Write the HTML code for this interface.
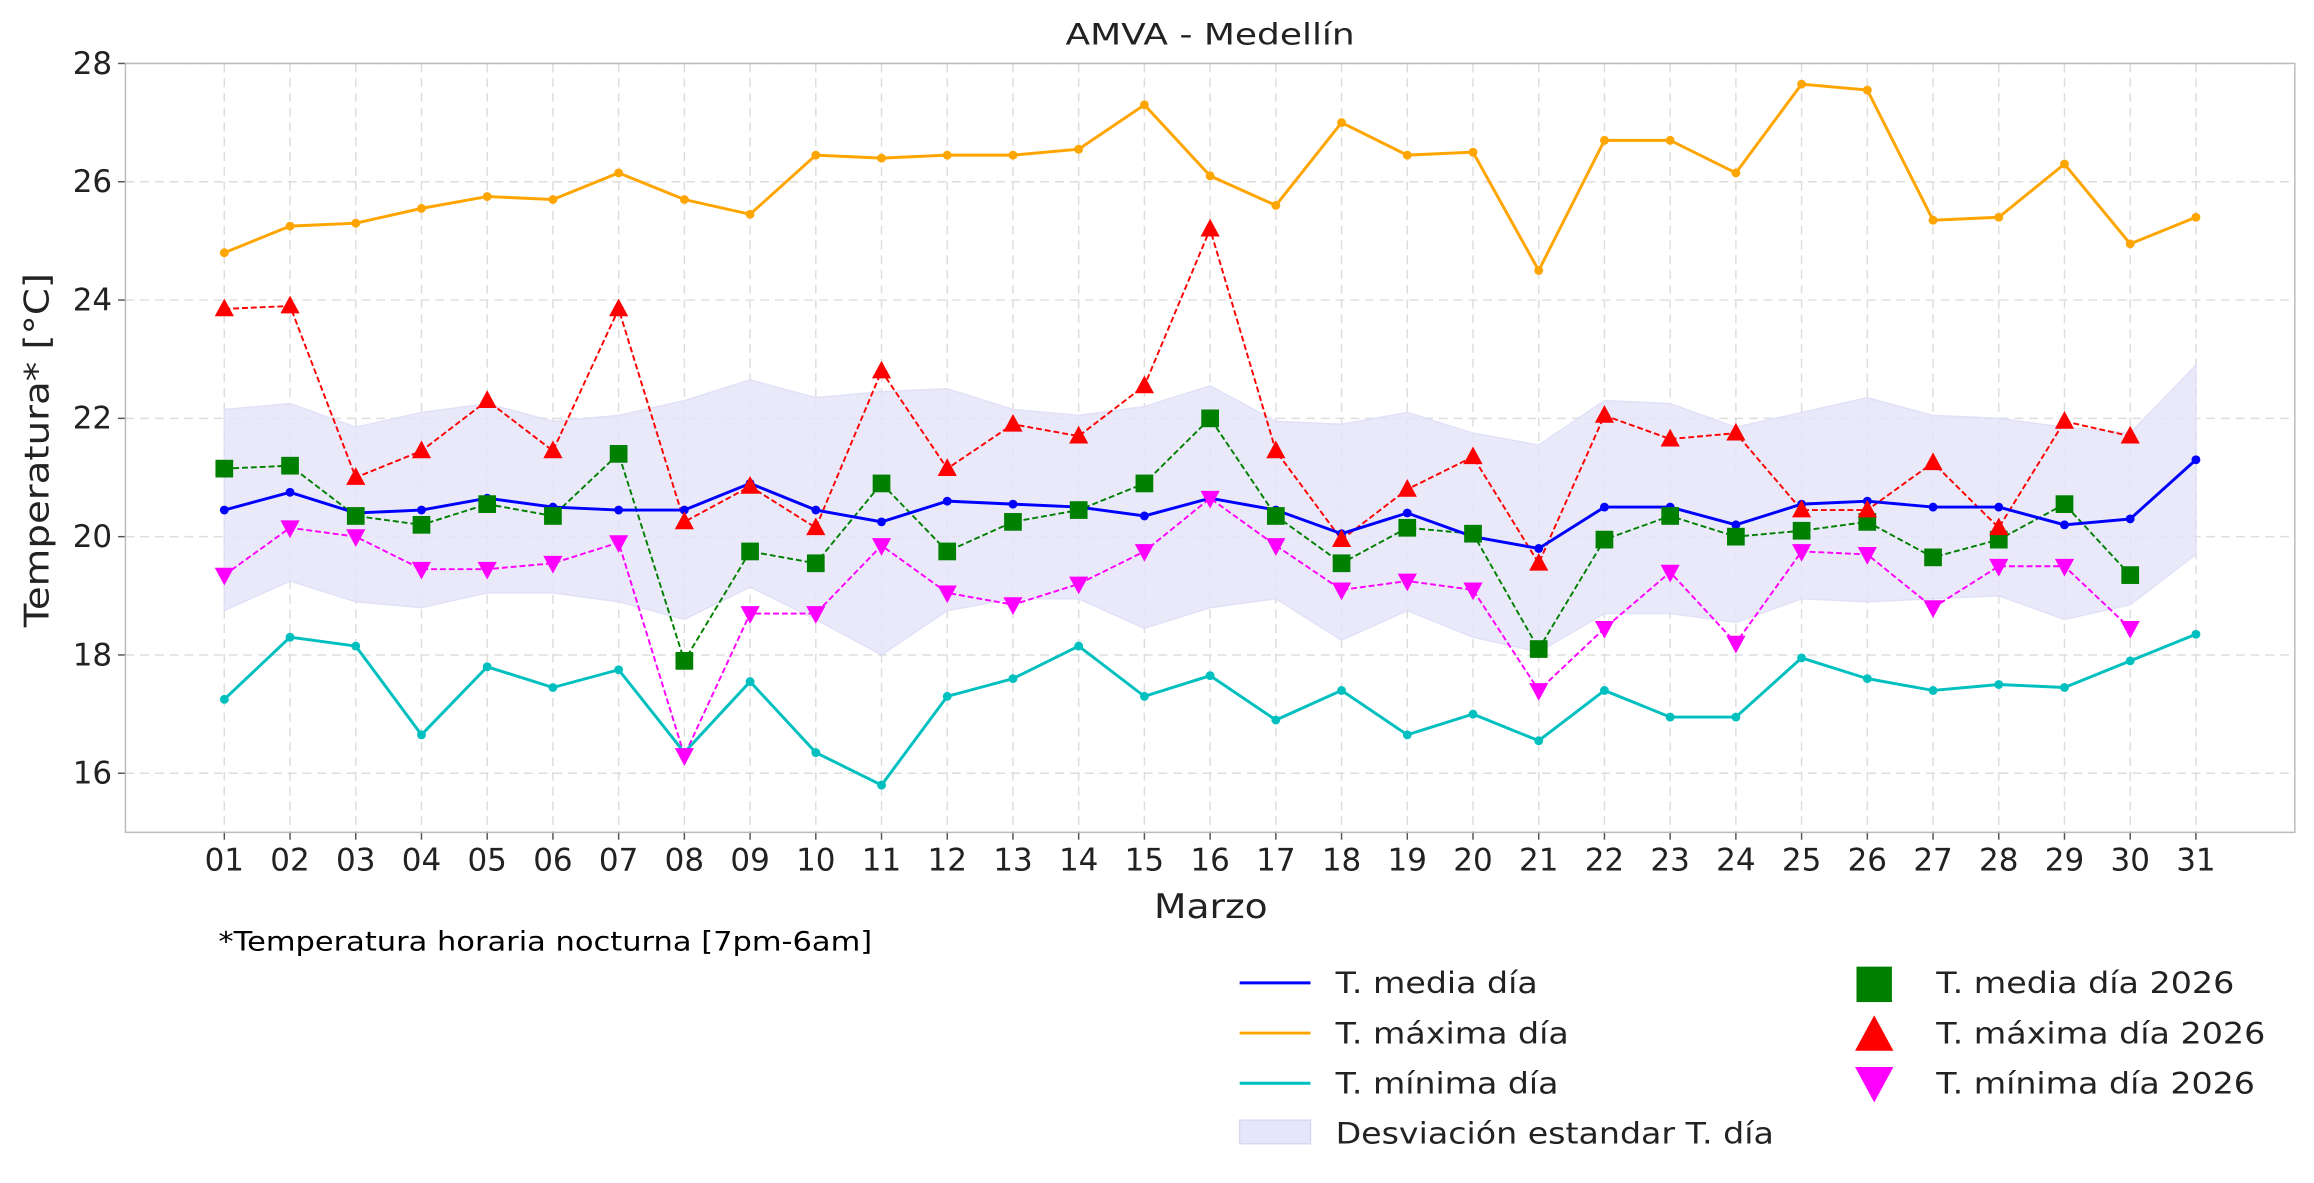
<!DOCTYPE html>
<html><head><meta charset="utf-8"><style>
html,body{margin:0;padding:0;background:#fff;}
svg{display:block;font-family:"DejaVu Sans","Liberation Sans",sans-serif;}
</style></head><body>
<svg id="c" width="2314" height="1183" viewBox="0 0 1568 801.6" preserveAspectRatio="none" xmlns="http://www.w3.org/2000/svg">
<rect x="0" y="0" width="1568" height="802" fill="#fff"/>
<g id="grid"></g>
<g id="data"></g>
<rect x="85" y="43" width="1470" height="521" fill="none" stroke="#bbb" stroke-width="1"/>
<text x="722" y="30" font-size="20" fill="#222" textLength="196" lengthAdjust="spacingAndGlyphs">AMVA - Medellín</text>
<text x="782" y="622" font-size="23" fill="#222" textLength="77" lengthAdjust="spacingAndGlyphs">Marzo</text>
<text transform="translate(33,425) rotate(-90)" font-size="23" fill="#222" textLength="240" lengthAdjust="spacingAndGlyphs">Temperatura* [°C]</text>
<text x="148" y="644" font-size="18" fill="#000" textLength="443" lengthAdjust="spacingAndGlyphs">*Temperatura horaria nocturna [7pm-6am]</text>
<g font-size="20" fill="#222">
<line x1="840" y1="666" x2="888" y2="666" stroke="#0000ff" stroke-width="2"/>
<text x="905" y="673" textLength="137" lengthAdjust="spacingAndGlyphs">T. media día</text>
<line x1="840" y1="700" x2="888" y2="700" stroke="#ffa500" stroke-width="2"/>
<text x="905" y="707" textLength="158" lengthAdjust="spacingAndGlyphs">T. máxima día</text>
<line x1="840" y1="734" x2="888" y2="734" stroke="#00bfbf" stroke-width="2"/>
<text x="905" y="741" textLength="151" lengthAdjust="spacingAndGlyphs">T. mínima día</text>
<rect x="840" y="759" width="48" height="16" fill="#e6e6fa" stroke="#d8d8f5"/>
<text x="905" y="775" textLength="297" lengthAdjust="spacingAndGlyphs">Desviación estandar T. día</text>
<rect x="1258" y="655" width="24" height="24" fill="#008000"/>
<text x="1312" y="673" textLength="202" lengthAdjust="spacingAndGlyphs">T. media día 2026</text>
<polygon points="1270,688 1283,712 1257,712" fill="#ff0000"/>
<text x="1312" y="707" textLength="223" lengthAdjust="spacingAndGlyphs">T. máxima día 2026</text>
<polygon points="1257,723 1283,723 1270,747" fill="#ff00ff"/>
<text x="1312" y="741" textLength="216" lengthAdjust="spacingAndGlyphs">T. mínima día 2026</text>
</g>
</svg>
<script>
const NS="http://www.w3.org/2000/svg";
const X=d=>152+(d-1)*44.533, Y=v=>43+(28-v)*40.08;
function el(p,t,a,txt){const e=document.createElementNS(NS,t);for(const k in a)e.setAttribute(k,a[k]);if(txt!==undefined)e.textContent=txt;p.appendChild(e);return e;}
const g=document.getElementById('grid'),D=document.getElementById('data');
for(let d=1;d<=31;d++){el(g,'line',{x1:X(d),x2:X(d),y1:43,y2:564,stroke:'#ddd','stroke-dasharray':'6,4','stroke-width':1});
el(g,'line',{x1:X(d),x2:X(d),y1:564,y2:569,stroke:'#555'});
el(g,'text',{x:X(d),y:590,'font-size':21,'text-anchor':'middle',fill:'#222'},String(d).padStart(2,'0'));}
for(let v=16;v<=28;v+=2){el(g,'line',{x1:85,x2:1555,y1:Y(v),y2:Y(v),stroke:'#ddd','stroke-dasharray':'6,4'});
el(g,'line',{x1:80,x2:85,y1:Y(v),y2:Y(v),stroke:'#555'});
el(g,'text',{x:76,y:Y(v)+7,'font-size':21,'text-anchor':'end',fill:'#222'},v);}
const mean=[20.45,20.75,20.4,20.45,20.65,20.5,20.45,20.45,20.9,20.45,20.25,20.6,20.55,20.5,20.35,20.65,20.45,20.05,20.4,20.0,19.8,20.5,20.5,20.2,20.55,20.6,20.5,20.5,20.2,20.3,21.3];
const mx=[24.8,25.25,25.3,25.55,25.75,25.7,26.15,25.7,25.45,26.45,26.4,26.45,26.45,26.55,27.3,26.1,25.6,27.0,26.45,26.5,24.5,26.7,26.7,26.15,27.65,27.55,25.35,25.4,26.3,24.95,25.4];
const mn=[17.25,18.3,18.15,16.65,17.8,17.45,17.75,16.35,17.55,16.35,15.8,17.3,17.6,18.15,17.3,17.65,16.9,17.4,16.65,17.0,16.55,17.4,16.95,16.95,17.95,17.6,17.4,17.5,17.45,17.9,18.35];
const up=[22.15,22.25,21.85,22.1,22.25,21.95,22.05,22.3,22.65,22.35,22.45,22.5,22.15,22.05,22.2,22.55,21.95,21.9,22.1,21.75,21.55,22.3,22.25,21.85,22.1,22.35,22.05,22.0,21.85,21.75,22.9];
const lo=[18.75,19.25,18.9,18.8,19.05,19.05,18.9,18.6,19.15,18.6,18.0,18.75,18.95,18.95,18.45,18.8,18.95,18.25,18.75,18.3,18.05,18.7,18.7,18.55,18.95,18.9,18.95,19.0,18.6,18.85,19.7];
const g26=[21.15,21.2,20.35,20.2,20.55,20.35,21.4,17.9,19.75,19.55,20.9,19.75,20.25,20.45,20.9,22.0,20.35,19.55,20.15,20.05,18.1,19.95,20.35,20.0,20.1,20.25,19.65,19.95,20.55,19.35];
const r26=[23.85,23.9,21.0,21.45,22.3,21.45,23.85,20.25,20.85,20.15,22.8,21.15,21.9,21.7,22.55,25.2,21.45,19.95,20.8,21.35,19.55,22.05,21.65,21.75,20.45,20.45,21.25,20.15,21.95,21.7];
const m26=[19.35,20.15,20.0,19.45,19.45,19.55,19.9,16.3,18.7,18.7,19.85,19.05,18.85,19.2,19.75,20.65,19.85,19.1,19.25,19.1,17.4,18.45,19.4,18.2,19.75,19.7,18.8,19.5,19.5,18.45];
const pts=a=>a.map((v,i)=>X(i+1)+','+Y(v)).join(' ');
let band=up.map((v,i)=>X(i+1)+','+Y(v)).concat(lo.map((v,i)=>X(i+1)+','+Y(v)).reverse()).join(' ');
el(D,'polygon',{points:band,fill:'#e6e6fa',opacity:0.85,stroke:'#dcdcf7','stroke-width':1});
function line(a,c,w,dash){el(D,'polyline',{points:pts(a),fill:'none',stroke:c,'stroke-width':w,'stroke-dasharray':dash||'none'});}
line(g26,'#008000',1.3,'4,2');line(r26,'#ff0000',1.3,'4,2');line(m26,'#ff00ff',1.3,'4,2');
line(mean,'#0000ff',2);line(mx,'#ffa500',2);line(mn,'#00bfbf',2);
[[mean,'#0000ff'],[mx,'#ffa500'],[mn,'#00bfbf']].forEach(([a,c])=>a.forEach((v,i)=>el(D,'circle',{cx:X(i+1),cy:Y(v),r:3,fill:c})));
g26.forEach((v,i)=>el(D,'rect',{x:X(i+1)-6,y:Y(v)-6,width:12,height:12,fill:'#008000'}));
r26.forEach((v,i)=>{const x=X(i+1),y=Y(v);el(D,'polygon',{points:`${x},${y-7} ${x+6.5},${y+5} ${x-6.5},${y+5}`,fill:'#ff0000'});});
m26.forEach((v,i)=>{const x=X(i+1),y=Y(v);el(D,'polygon',{points:`${x-6.5},${y-5} ${x+6.5},${y-5} ${x},${y+7}`,fill:'#ff00ff'});});
</script>
</body></html>
